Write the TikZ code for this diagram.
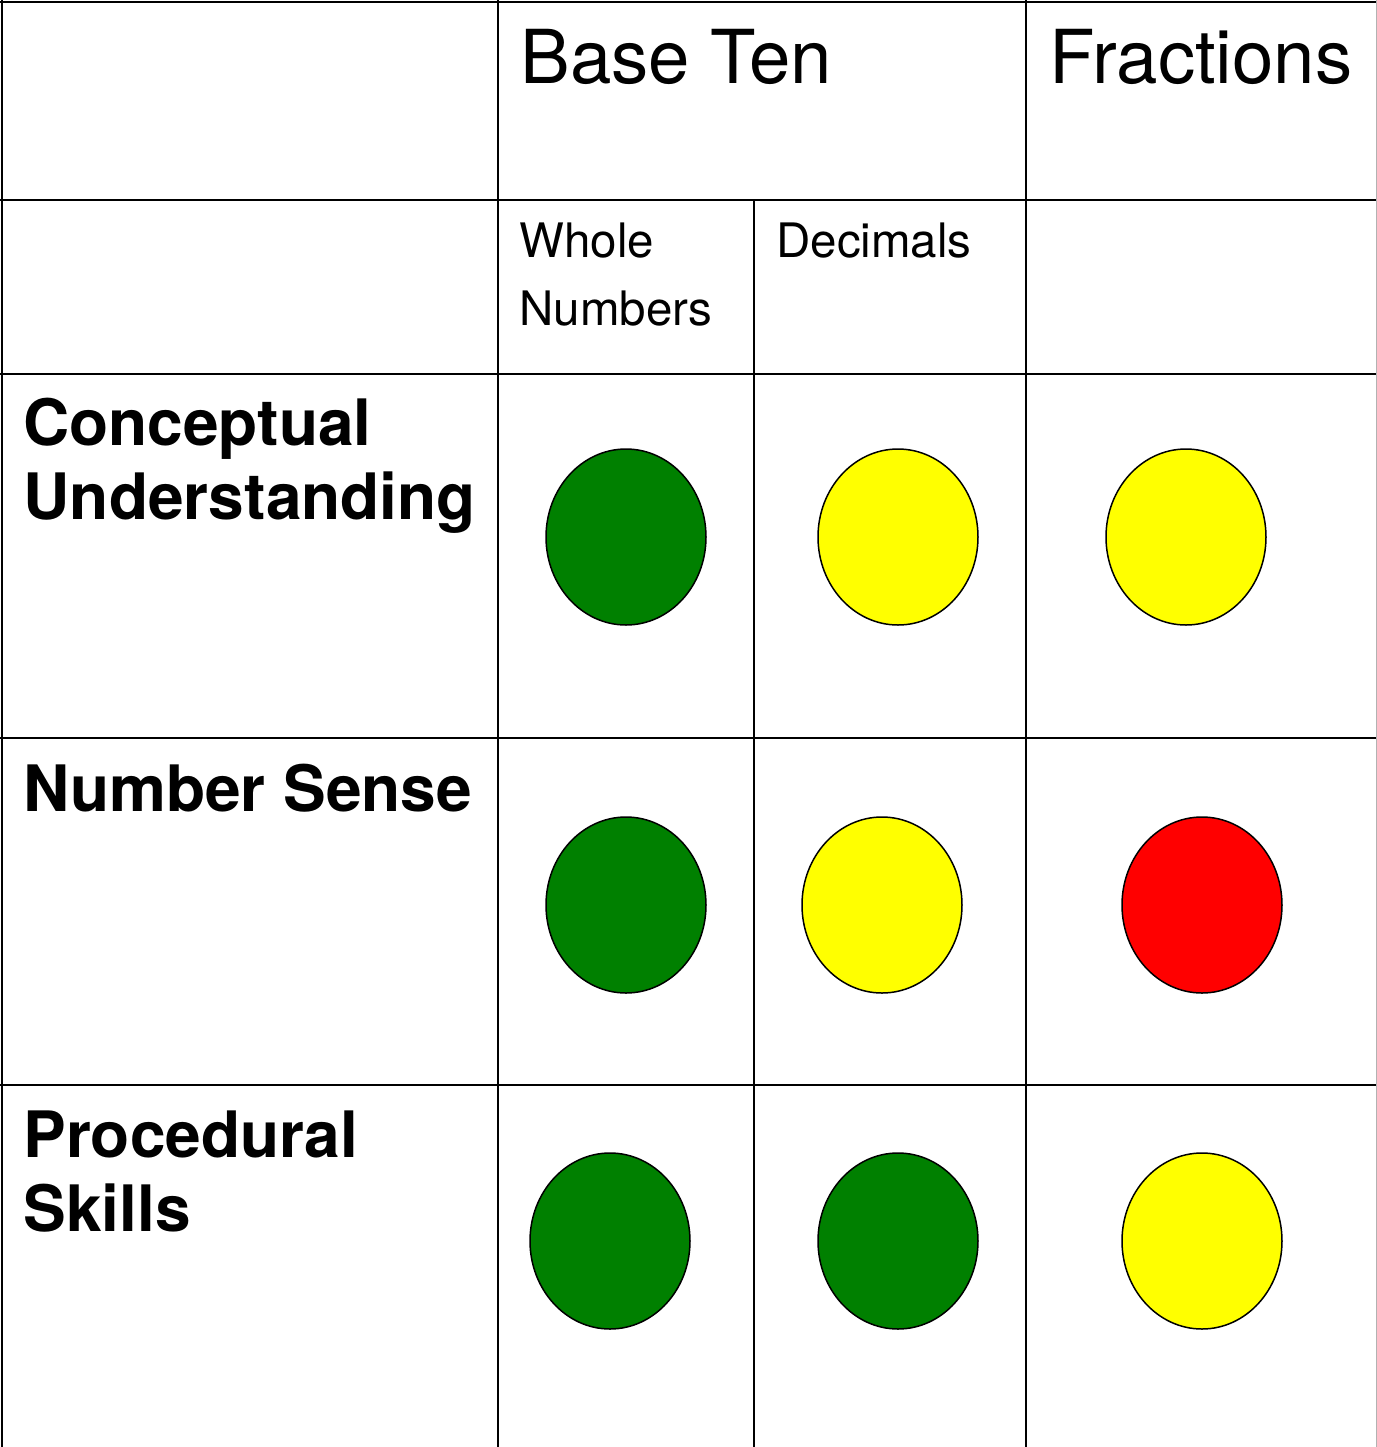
\documentclass[tikz,border=0pt]{standalone}
\usepackage{fontspec}
\setmainfont{TeX Gyre Heros}
\usetikzlibrary{shapes.geometric}
\definecolor{goodgreen}{HTML}{008000}
\definecolor{okyellow}{HTML}{FFFF00}
\definecolor{badred}{HTML}{FF0000}
\tikzset{
    x=0.5pt, y=-0.5pt,
    grid line/.style={ % Table rules
        draw, line width=1pt
    },
    big head/.style={ % Top row headings
        anchor=base west, inner sep=0pt,
        font=\fontsize{37.2}{37.2}\selectfont
    },
    sub head/.style={ % Second row headings (base = last line)
        anchor=base west, inner sep=0pt, align=left,
        font=\fontsize{23.75}{34}\selectfont
    },
    row head/.style={ % Bold row labels (base = last line)
        anchor=base west, inner sep=0pt, align=left,
        font=\fontsize{32}{37}\selectfont\bfseries
    },
    dot/.style={ % Traffic light marks
        ellipse, draw, line width=0.75pt,
        minimum width=80pt, minimum height=88pt, inner sep=0pt
    }
}
\begin{document}
\begin{tikzpicture}
    \useasboundingbox (0,0) rectangle (1377,1447);
    % table rules
    \draw[grid line] (0,2) -- (1377,2);
    \draw[grid line] (0,200) -- (1377,200);
    \draw[grid line] (0,374) -- (1377,374);
    \draw[grid line] (0,738) -- (1377,738);
    \draw[grid line] (0,1085) -- (1377,1085);
    \draw[grid line] (2,0) -- (2,1447);
    \draw[grid line] (498,0) -- (498,1447);
    \draw[grid line] (754,200) -- (754,1447);
    \draw[grid line] (1026,0) -- (1026,1447);
    \draw[grid line, gray!60] (1376.5,0) -- (1376.5,1447);
    % headings
    \node[big head] (baseten) at (520,83) {Base Ten};
    \node[big head] (fractions) at (1049,83) {Fractions};
    \node[sub head] (whole) at (519,325) {Whole\\Numbers};
    \node[sub head] (decimals) at (776,257) {Decimals};
    % row labels
    \node[row head] (concept) at (23,519) {Conceptual\\Understanding};
    \node[row head] (sense) at (23,811) {Number Sense};
    \node[row head] (proc) at (23,1231) {Procedural\\Skills};
    % marks
    \node[dot, fill=goodgreen] (cu-whole) at (626,537) {};
    \node[dot, fill=okyellow]  (cu-dec)   at (898,537) {};
    \node[dot, fill=okyellow]  (cu-frac)  at (1186,537) {};
    \node[dot, fill=goodgreen] (ns-whole) at (626,905) {};
    \node[dot, fill=okyellow]  (ns-dec)   at (882,905) {};
    \node[dot, fill=badred]    (ns-frac)  at (1202,905) {};
    \node[dot, fill=goodgreen] (ps-whole) at (610,1241) {};
    \node[dot, fill=goodgreen] (ps-dec)   at (898,1241) {};
    \node[dot, fill=okyellow]  (ps-frac)  at (1202,1241) {};
\end{tikzpicture}
\end{document}
